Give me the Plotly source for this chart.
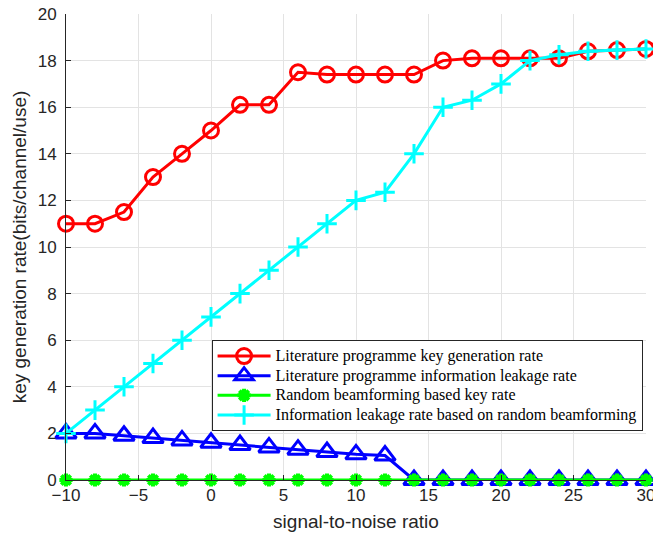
import plotly.graph_objects as go

snr = [-10, -8, -6, -4, -2, 0, 2, 4, 6, 8, 10, 12, 14, 16, 18, 20, 22, 24, 26, 28, 30]

lit_key_rate = [11.0, 11.0, 11.5, 13.0, 14.0, 15.0, 16.1, 16.1, 17.5, 17.4, 17.4,
                17.4, 17.4, 18.0, 18.1, 18.1, 18.1, 18.1, 18.4, 18.45, 18.5]
lit_leak_rate = [2.0, 2.0, 1.9, 1.8, 1.7, 1.6, 1.5, 1.4, 1.3, 1.2, 1.1,
                 1.05, 0, 0, 0, 0, 0, 0, 0, 0, 0]
rb_key_rate = [0] * 21
rb_leak_rate = [2.0, 3.0, 4.0, 5.0, 6.0, 7.0, 8.0, 9.0, 10.0, 11.0, 12.0,
                12.35, 14.0, 16.0, 16.3, 17.0, 18.0, 18.25, 18.4, 18.45, 18.5]

names = [
    "Literature programme key generation rate",
    "Literature programme information leakage rate",
    "Random beamforming based key rate",
    "Information leakage rate based on random beamforming",
]

series = [
    (lit_key_rate, "#ff0000", "circle-open", 15),
    (lit_leak_rate, "#0000ff", "triangle-up-open", 18),
    (rb_key_rate, "#00ff00", "asterisk-open", 11),
    (rb_leak_rate, "#00ffff", "cross-thin-open", 14),
]

fig = go.Figure()
for name, (vals, color, symbol, size) in zip(names, series):
    fig.add_trace(go.Scatter(
        x=snr, y=vals, mode="lines+markers",
        # legend rows are spaced by the legend font size; the label itself is larger
        name=f'<span style="font-size:16px">{name}</span>',
        line=dict(color=color, width=3),
        marker=dict(symbol=symbol, size=size, color=color,
                    line=dict(color=color, width=4 if symbol == "asterisk-open" else 3)),
        cliponaxis=False,
    ))

axis_common = dict(
    showgrid=True, gridcolor="#e3e3e3", gridwidth=1,
    showline=True, linecolor="#262626", linewidth=1,
    ticks="inside", ticklen=5, tickcolor="#262626",
    tickfont=dict(family="Liberation Sans, Arial", size=17, color="#262626"),
    zeroline=False, ticklabeloverflow="allow", automargin=False,
)

fig.update_xaxes(range=[-10, 30], tickvals=[-10, -5, 0, 5, 10, 15, 20, 25, 30],
                 title=dict(text="signal-to-noise ratio",
                            font=dict(family="Liberation Sans, Arial", size=19, color="#262626"),
                            standoff=10),
                 **axis_common)
fig.update_yaxes(range=[0, 20], tickvals=list(range(0, 21, 2)), ticklabelstandoff=5,
                 title=dict(text="key generation rate(bits/channel/use)",
                            font=dict(family="Liberation Sans, Arial", size=19, color="#262626"),
                            standoff=6),
                 **axis_common)

fig.update_layout(
    width=653, height=540,
    margin=dict(l=66, r=7, t=14, b=60),
    plot_bgcolor="white", paper_bgcolor="white",
    showlegend=True,
    legend=dict(
        x=0.251, y=0.3, xanchor="left", yanchor="top",
        bgcolor="white", bordercolor="#262626", borderwidth=1,
        font=dict(family="Liberation Serif, Times New Roman", size=12.8, color="#000000"),
        itemwidth=53, tracegroupgap=0,
    ),
)

fig.write_html("out.html")
